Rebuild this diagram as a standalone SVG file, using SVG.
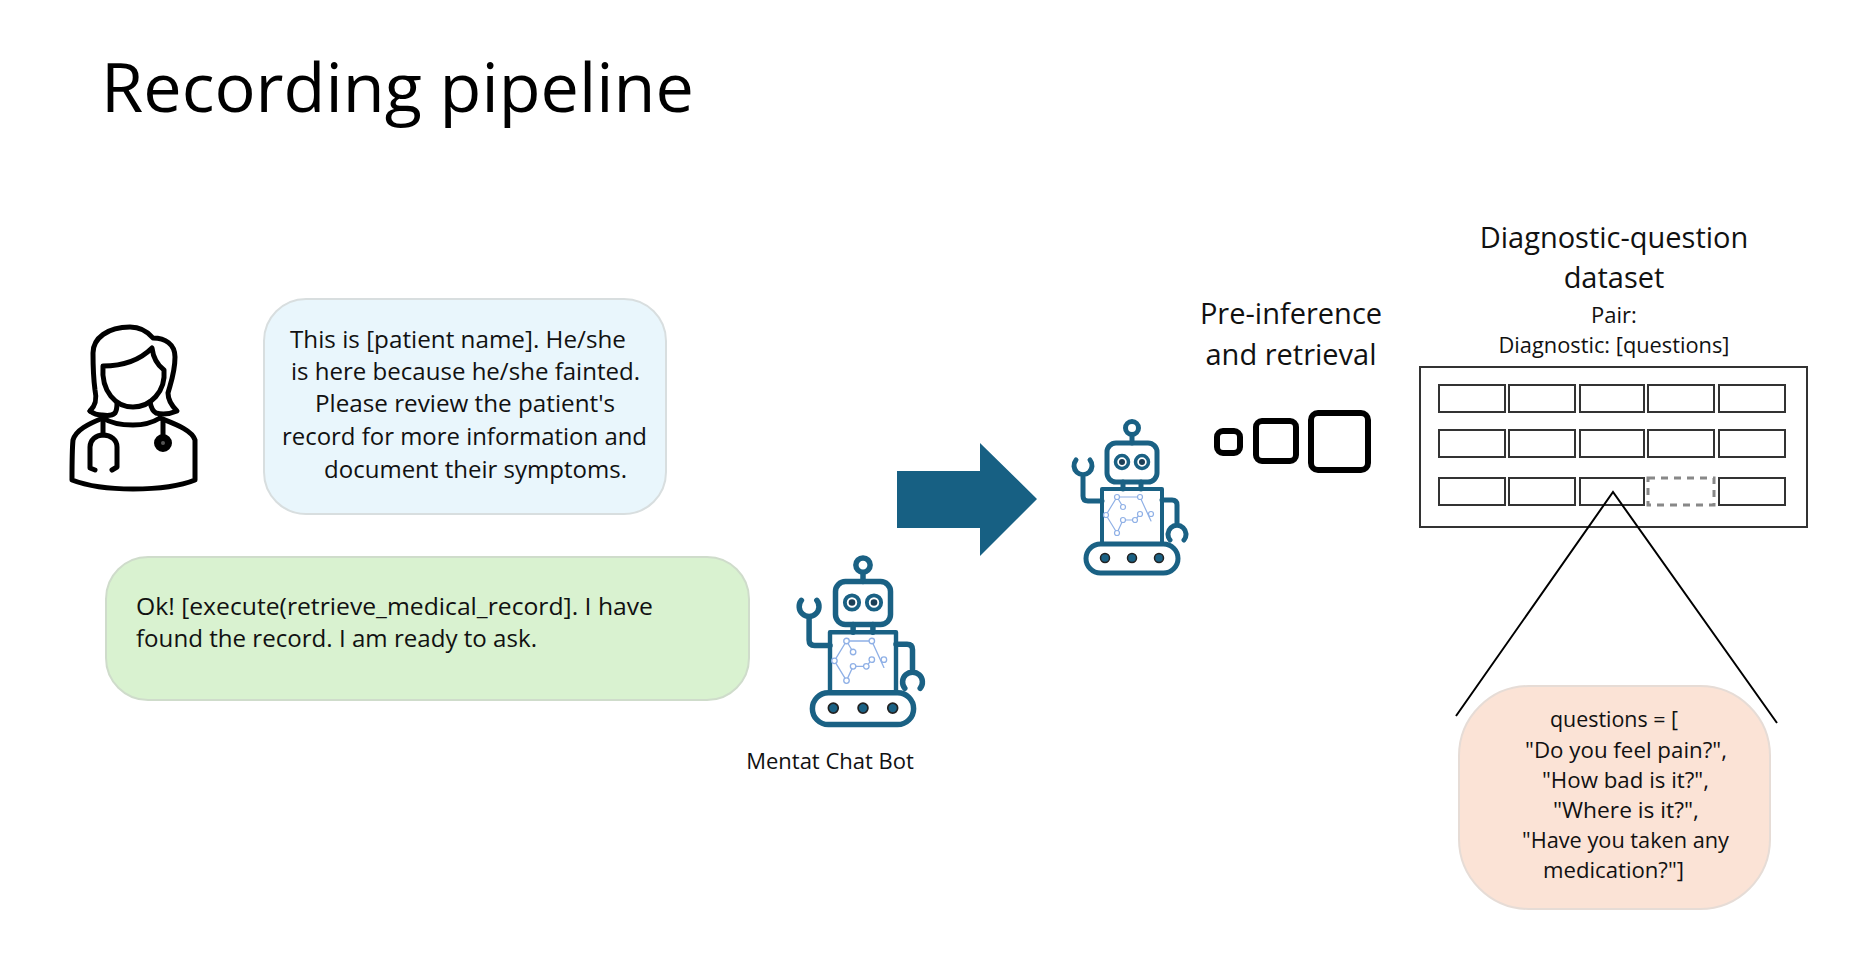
<svg xmlns="http://www.w3.org/2000/svg" width="1855" height="973" viewBox="0 0 1855 973">
<style>
text{font-family:"Open Sans","Noto Sans","Liberation Sans",sans-serif;fill:#111}
.b{font-size:24px}
.h{font-size:29px}
.s{font-size:22px}
.m{text-anchor:middle}
.cell{fill:#fff;stroke:#333;stroke-width:2}
</style>
<defs>
<g id="robot" fill="none" stroke="#1a6184" stroke-width="5" stroke-linecap="round" stroke-linejoin="round">
<circle cx="0" cy="-59" r="6.500"/>
<path d="M0-52V-44"/>
<rect x="-25" y="-44" width="50" height="39" rx="9"/>
<circle cx="-10" cy="-25" r="6.500" stroke-width="3.500"/><circle cx="10" cy="-25" r="6.500" stroke-width="3.500"/>
<circle cx="-10" cy="-25" r="3" fill="#1a3f57" stroke="none"/><circle cx="10" cy="-25" r="3" fill="#1a3f57" stroke="none"/>
<path d="M-9-5V2M9-5V2"/>
<rect x="-30" y="2" width="60" height="55" stroke-width="4"/>
<path d="M-30 14H-44Q-49 14-49 9V-12M-42-27A9 9 0 1 1-56-27"/>
<path d="M30 13H40Q45 13 45 18V38M38 53A9 9 0 1 1 52 53"/>
<rect x="-46" y="57" width="92" height="29" rx="14.500"/>
<g fill="#1a6184" stroke="#222" stroke-width="1.500"><circle cx="-27" cy="71" r="4.500"/><circle cx="0" cy="71" r="4.500"/><circle cx="27" cy="71" r="4.500"/></g>
<g stroke="#8fb0e6" stroke-width="1.200"><path d="M-15 10H8L19 34M-15 10L-9 20M-15 10L-26 28L-15 46L-9 33L3 33L8 27"/>
<g fill="#fff"><circle cx="-15" cy="10" r="2.500"/><circle cx="8" cy="10" r="2.500"/><circle cx="-9" cy="20" r="2.500"/><circle cx="19" cy="27" r="2.500"/><circle cx="-26" cy="28" r="2.500"/><circle cx="-15" cy="46" r="2.500"/><circle cx="-9" cy="33" r="2.500"/><circle cx="3" cy="33" r="2.500"/><circle cx="8" cy="27" r="2.500"/></g></g>
</g>
</defs>
<text id="title" x="101" y="112" font-size="68" textLength="593" lengthAdjust="spacingAndGlyphs" style="fill:#000">Recording pipeline</text>
<g id="doctor" fill="none" stroke="#000" stroke-width="5" stroke-linecap="round" stroke-linejoin="round">
<path d="M90 411C96 405 97 399 95 390C93 375 93 365 93 353C93 338 108 327 130 327C141 327 148 332 153 338C165 338 175 344 175 357C175 372 171 382 168 393C168 400 172 406 177 411C170 414 163 415 156 413C152 411 151 407 150 402"/>
<path d="M90 411C94 414 98 415 102 415C108 416 113 415 115 413C117 410 117 407 117 403"/>
<path d="M103 366C125 366 140 360 152 348C153 356 156 364 164 370C166 392 150 407 133 407C116 407 101 392 103 366Z"/>
<path d="M103 418C112 424 122 425 133 425C144 425 152 423 160 418"/>
<path d="M103 418C88 424 76 430 73 440C72 450 72 465 72 480C90 487 110 489 133 489C156 489 178 487 195 480C195 465 195 450 195 440C192 430 175 424 160 418"/>
<path d="M103 418V435"/>
<path d="M95 470L90 468V447C90 440 96 435 103 435C111 435 117 440 117 447V467L112 470"/>
<path d="M163 420V436"/><circle cx="163" cy="443" r="6.500" fill="#000"/><circle cx="163" cy="443" r="2" fill="#555" stroke="none"/>
</g>
<g id="bubble-doctor">
<rect x="264" y="299" width="402" height="215" rx="42" fill="#e9f6fc" stroke="#d8dedf" stroke-width="2"/>
<text class="b" x="290" y="348" textLength="336" lengthAdjust="spacingAndGlyphs">This is [patient name]. He/she</text>
<text class="b" x="291" y="380" textLength="349" lengthAdjust="spacingAndGlyphs">is here because he/she fainted.</text>
<text class="b" x="315" y="412" textLength="300" lengthAdjust="spacingAndGlyphs">Please review the patient's</text>
<text class="b" x="282" y="445" textLength="365" lengthAdjust="spacingAndGlyphs">record for more information and</text>
<text class="b" x="324" y="478" textLength="303" lengthAdjust="spacingAndGlyphs">document their symptoms.</text>
</g>
<g id="bubble-bot">
<rect x="106" y="557" width="643" height="143" rx="42" fill="#d9f2d0" stroke="#cfdccb" stroke-width="2"/>
<text class="b" x="136" y="615" textLength="517" lengthAdjust="spacingAndGlyphs">Ok! [execute(retrieve_medical_record]. I have</text>
<text class="b" x="136" y="647" textLength="401" lengthAdjust="spacingAndGlyphs">found the record. I am ready to ask.</text>
</g>
<g id="robot-chat"><use href="#robot" transform="translate(863 630) scale(1.1)"/></g>
<text id="robot-label" class="s m" x="830" y="769">Mentat Chat Bot</text>
<g id="arrow"><path d="M897 471H980V443L1037 499L980 556V528H897Z" fill="#176083"/></g>
<g id="robot-pre"><use href="#robot" x="1132" y="487"/></g>
<g id="pre-inference">
<text class="h m" x="1291" y="324">Pre-inference</text>
<text class="h m" x="1291" y="365">and retrieval</text>
<g fill="none" stroke="#000" stroke-width="6"><rect x="1217" y="431" width="23" height="22" rx="6"/><rect x="1256" y="421" width="40" height="40" rx="6"/><rect x="1311" y="413" width="57" height="57" rx="7"/></g>
</g>
<g id="dataset">
<text class="h m" x="1614" y="248">Diagnostic-question</text>
<text class="h m" x="1614" y="288">dataset</text>
<text class="s m" x="1614" y="323">Pair:</text>
<text class="s m" x="1614" y="353" textLength="231" lengthAdjust="spacingAndGlyphs">Diagnostic: [questions]</text>
<rect x="1420" y="367" width="387" height="160" fill="#fff" stroke="#333" stroke-width="2"/>
<rect class="cell" x="1439" y="385" width="66" height="27"/><rect class="cell" x="1509" y="385" width="66" height="27"/><rect class="cell" x="1580" y="385" width="64" height="27"/><rect class="cell" x="1648" y="385" width="66" height="27"/><rect class="cell" x="1719" y="385" width="66" height="27"/>
<rect class="cell" x="1439" y="430" width="66" height="27"/><rect class="cell" x="1509" y="430" width="66" height="27"/><rect class="cell" x="1580" y="430" width="64" height="27"/><rect class="cell" x="1648" y="430" width="66" height="27"/><rect class="cell" x="1719" y="430" width="66" height="27"/>
<rect class="cell" x="1439" y="478" width="66" height="27"/><rect class="cell" x="1509" y="478" width="66" height="27"/><rect class="cell" x="1580" y="478" width="64" height="27"/><rect x="1648" y="478" width="66" height="27" fill="#fff" stroke="#888" stroke-width="3" stroke-dasharray="7 6"/><rect class="cell" x="1719" y="478" width="66" height="27"/>
</g>
<g id="connectors" fill="none" stroke="#000" stroke-width="2"><path d="M1456 716L1613 492L1777 723"/></g>
<g id="bubble-questions">
<rect x="1459" y="686" width="311" height="223" rx="70" fill="#fbe3d6" stroke="#e6dcd6" stroke-width="2"/>
<text class="s" x="1550" y="727" textLength="128" lengthAdjust="spacingAndGlyphs">questions = [</text>
<text class="s" x="1525" y="758" textLength="202" lengthAdjust="spacingAndGlyphs">"Do you feel pain?",</text>
<text class="s" x="1542" y="788" textLength="167" lengthAdjust="spacingAndGlyphs">"How bad is it?",</text>
<text class="s" x="1553" y="818" textLength="146" lengthAdjust="spacingAndGlyphs">"Where is it?",</text>
<text class="s" x="1522" y="848" textLength="207" lengthAdjust="spacingAndGlyphs">"Have you taken any</text>
<text class="s" x="1543" y="878" textLength="141" lengthAdjust="spacingAndGlyphs">medication?"]</text>
</g>
</svg>
